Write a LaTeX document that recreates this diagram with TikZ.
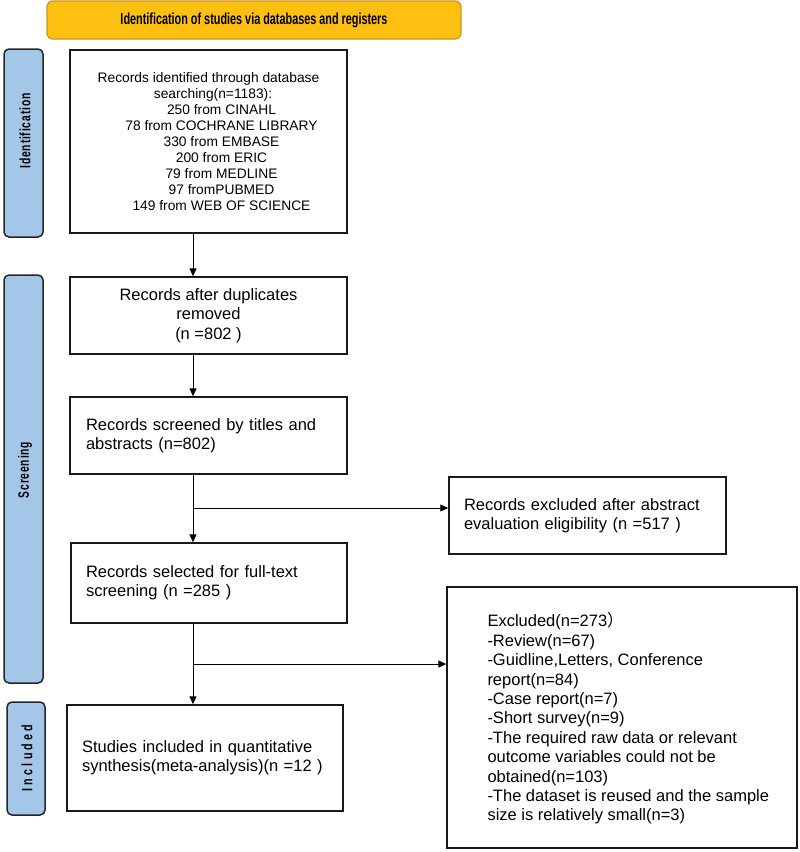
\documentclass[tikz,border=0pt]{standalone}
\usepackage{fontspec}
\setmainfont{Liberation Sans}
\newfontfamily\cjkfont{Noto Sans CJK SC}
\usepackage{graphicx}
\usetikzlibrary{arrows.meta}
\definecolor{bannerfill}{RGB}{253,192,16}
\definecolor{bannerdraw}{RGB}{200,150,40}
\definecolor{labfill}{RGB}{164,198,232}
\tikzset{
 banner/.style={draw=bannerdraw, fill=bannerfill, line width=1.3pt, rounded corners=6pt, inner sep=0pt},
 phase/.style={draw=black!85, fill=labfill, line width=1.5pt, rounded corners=5pt, inner sep=0pt},
 phasetext/.style={rotate=90, font=\fontsize{15}{17}\selectfont\bfseries, inner sep=0pt},
 box/.style={draw=black!90, line width=1.4pt, fill=white, inner ysep=0pt},
 bigtext/.style={font=\fontsize{16.5}{19.3}\selectfont},
 arr/.style={line width=1pt, -{Triangle[length=8pt,width=7pt]}}
}
\newcommand{\indl}{\hspace*{26pt}}
\begin{document}
\begin{tikzpicture}[x=1pt,y=-1pt]
\path[use as bounding box] (0,0) rectangle (800,852);

\node[banner, minimum width=414pt, minimum height=38pt] (title) at (254,20)
  {\resizebox{267pt}{\height}{\fontsize{16}{18}\selectfont\bfseries Identification of studies via databases and registers}};

\node[phase, minimum width=39pt, minimum height=188pt] (pid) at (23.5,143) {};
\node[phasetext] (tid) at (25,131) {\resizebox{75pt}{\height}{\addfontfeature{LetterSpace=8}Identification}};
\node[phase, minimum width=39pt, minimum height=408pt] (psc) at (23.5,479) {};
\node[phasetext] (tsc) at (25,470) {\resizebox{56pt}{\height}{\addfontfeature{LetterSpace=8}Screening}};
\node[phase, minimum width=38pt, minimum height=113pt] (pin) at (26,758.5) {};
\node[phasetext] (tin) at (27,758) {\resizebox{67pt}{\height}{\addfontfeature{LetterSpace=30}Included}};

\node[box, minimum width=277pt, minimum height=183pt, align=center, font=\fontsize{13.8}{16}\selectfont] (b1) at (208.5,141.5)
  {Records identified through database\\\hspace*{9pt}searching(n=1183):\\\indl 250 from CINAHL\\\indl 78 from COCHRANE LIBRARY\\\indl 330 from EMBASE\\\indl 200 from ERIC\\\indl 79 from MEDLINE\\\indl 97 fromPUBMED\\\indl 149 from WEB OF SCIENCE};

\node[box, minimum width=277pt, minimum height=77pt, align=center, bigtext] (b2) at (208.5,315.5)
  {Records after duplicates\\removed\\(n =802 )};

\node[box, minimum height=77pt, text width=245pt, inner xsep=16pt, align=left, bigtext] (b3) at (208.5,435.5)
  {Records screened by titles and\\abstracts (n=802)};

\node[box, minimum height=80pt, text width=246pt, inner xsep=15pt, align=left, bigtext] (b4) at (209,583)
  {Records selected for full-text\\screening (n =285 )};

\node[box, minimum height=77pt, text width=247pt, inner xsep=15pt, align=left, bigtext] (b5) at (587.5,515.5)
  {Records excluded after abstract\\evaluation eligibility (n =517 )};

\node[box, minimum height=106pt, text width=246pt, inner xsep=15pt, align=left, bigtext] (b7) at (205,758)
  {Studies included in quantitative\\synthesis(meta-analysis)(n =12 )};

\node[box, minimum width=350pt, minimum height=261pt] (b6) at (622,717.5) {};
\node[anchor=west, inner sep=0pt, align=left, font=\fontsize{16.5}{19.4}\selectfont] (b6text) at ([xshift=41pt,yshift=-1pt]b6.west)
  {Excluded(n=273{\cjkfont ）}\\-Review(n=67)\\-Guidline,Letters, Conference\\report(n=84)\\-Case report(n=7)\\-Short survey(n=9)\\-The required raw data or relevant\\outcome variables could not be\\obtained(n=103)\\-The dataset is reused and the sample\\size is relatively small(n=3)};

\coordinate (sp) at (193,0);
\draw[arr] (b1.south -| sp) -- (b2.north -| sp);
\draw[arr] (b2.south -| sp) -- (b3.north -| sp);
\draw[arr] (b3.south -| sp) -- (b4.north -| sp);
\draw[arr] (b4.south -| sp) -- (b7.north -| sp);
\coordinate (j1) at (193,508);
\draw[arr] (j1) -- (j1 -| b5.west);
\coordinate (j2) at (193,664);
\draw[arr] (j2) -- (j2 -| b6.west);
\end{tikzpicture}
\end{document}
